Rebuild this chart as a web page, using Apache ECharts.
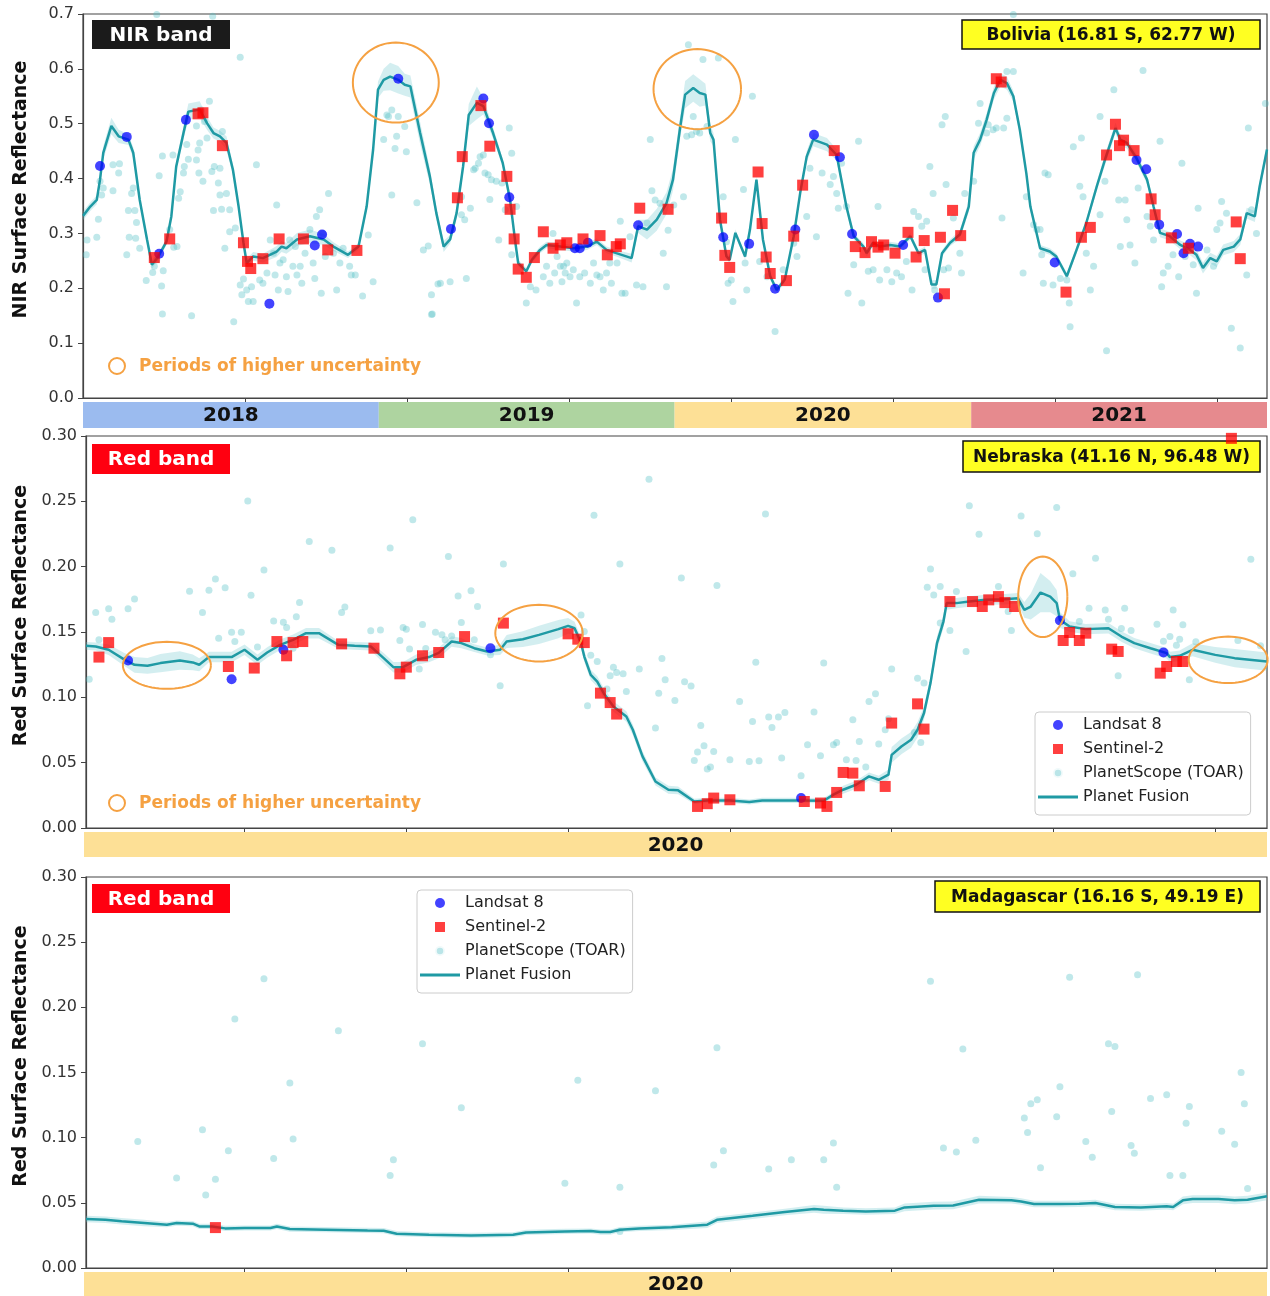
<!DOCTYPE html>
<html>
<head>
<meta charset="utf-8">
<script src="https://cdn.jsdelivr.net/npm/echarts@6/dist/echarts.min.js"></script>
<style>html,body{margin:0;padding:0;background:#fff}#c{width:1270px;height:1296px}</style>
</head>
<body>
<div id="c"></div>
<script>
// ---------- Panel 1: Bolivia, NIR band (x = days since 2018-01-01) ----------
const nirFusionDay = [0,9,17,21,25,35,44,56,62,70,79,85,93,103,109,115,124,130,144,153,161,169,177,185,192,198,202,210,222,239,245,251,264,280,297,309,327,340,350,358,364,371,379,389,397,404,416,428,436,445,453,461,469,476,486,494,506,518,527,533,537,547,554,564,572,589,605,622,634,646,658,677,685,696,708,720,728,737,743,753,761,768,774,778,786,794,798,805,817,823,831,839,848,856,866,877,885,893,901,918,930,942,951,963,967,975,983,996,1008,1021,1031,1039,1047,1053,1060,1070,1082,1093,1099,1107,1115,1124,1132,1140,1148,1156,1164,1169,1181,1193,1201,1214,1226,1238,1251,1261,1274,1280,1288,1300,1313,1321,1329,1341,1354,1366,1374,1382,1391,1399,1407,1420,1428,1436,1446,1452,1461];
const nirFusionVal = [0.332,0.349,0.361,0.398,0.447,0.496,0.477,0.471,0.447,0.361,0.289,0.243,0.258,0.285,0.331,0.422,0.483,0.522,0.526,0.501,0.483,0.477,0.465,0.416,0.349,0.283,0.246,0.258,0.255,0.267,0.276,0.273,0.289,0.295,0.289,0.276,0.261,0.276,0.349,0.453,0.562,0.580,0.586,0.580,0.571,0.568,0.483,0.404,0.337,0.276,0.289,0.337,0.422,0.516,0.538,0.532,0.483,0.428,0.361,0.289,0.246,0.231,0.252,0.270,0.279,0.276,0.273,0.276,0.285,0.270,0.264,0.255,0.313,0.307,0.325,0.355,0.398,0.495,0.553,0.565,0.556,0.553,0.483,0.471,0.325,0.258,0.252,0.301,0.258,0.307,0.398,0.289,0.222,0.197,0.216,0.295,0.374,0.440,0.471,0.462,0.443,0.349,0.295,0.276,0.264,0.283,0.276,0.279,0.276,0.295,0.264,0.270,0.207,0.207,0.264,0.283,0.298,0.349,0.447,0.471,0.507,0.556,0.580,0.574,0.550,0.489,0.410,0.349,0.273,0.267,0.258,0.222,0.270,0.319,0.386,0.434,0.492,0.471,0.465,0.437,0.398,0.349,0.301,0.295,0.279,0.270,0.261,0.237,0.255,0.249,0.270,0.276,0.289,0.337,0.331,0.386,0.453];
const nirFusionUnc = [0.008,0.008,0.008,0.01,0.012,0.015,0.012,0.01,0.01,0.008,0.008,0.008,0.006,0.006,0.008,0.01,0.012,0.015,0.015,0.012,0.01,0.01,0.012,0.01,0.008,0.008,0.008,0.008,0.008,0.01,0.01,0.01,0.012,0.012,0.01,0.008,0.006,0.006,0.008,0.01,0.015,0.02,0.025,0.025,0.02,0.02,0.02,0.015,0.01,0.01,0.008,0.01,0.012,0.02,0.03,0.015,0.01,0.008,0.008,0.006,0.006,0.006,0.006,0.006,0.006,0.006,0.006,0.006,0.006,0.006,0.006,0.008,0.012,0.018,0.02,0.02,0.02,0.02,0.025,0.025,0.025,0.02,0.015,0.012,0.008,0.006,0.006,0.006,0.006,0.006,0.006,0.006,0.006,0.006,0.006,0.006,0.008,0.01,0.012,0.012,0.01,0.008,0.006,0.006,0.006,0.006,0.006,0.006,0.006,0.006,0.006,0.006,0.008,0.008,0.006,0.006,0.008,0.01,0.012,0.012,0.012,0.012,0.012,0.012,0.01,0.01,0.008,0.008,0.006,0.006,0.006,0.006,0.006,0.006,0.008,0.01,0.01,0.01,0.01,0.008,0.008,0.008,0.008,0.008,0.008,0.01,0.01,0.01,0.01,0.01,0.01,0.01,0.01,0.01,0.01,0.01,0.01];
const nirLandsat = [[21,0.423],[54,0.476],[94,0.263],[127,0.507],[230,0.172],[286,0.278],[295,0.298],[389,0.582],[454,0.308],[494,0.546],[501,0.501],[526,0.366],[607,0.273],[613,0.273],[623,0.283],[685,0.315],[790,0.293],[822,0.281],[854,0.199],[879,0.307],[902,0.480],[934,0.439],[949,0.299],[1012,0.279],[1055,0.183],[1199,0.247],[1300,0.434],[1312,0.417],[1328,0.316],[1350,0.299],[1358,0.264],[1366,0.281],[1376,0.276]];
const nirSentinel = [[88,0.256],[107,0.290],[142,0.518],[148,0.520],[172,0.460],[198,0.283],[203,0.249],[207,0.236],[222,0.254],[242,0.290],[272,0.290],[302,0.270],[338,0.269],[462,0.365],[468,0.440],[491,0.533],[502,0.459],[523,0.404],[527,0.344],[532,0.290],[537,0.235],[547,0.220],[557,0.256],[568,0.303],[580,0.273],[589,0.279],[597,0.283],[617,0.290],[638,0.296],[647,0.261],[658,0.276],[663,0.281],[687,0.346],[722,0.344],[788,0.328],[792,0.260],[798,0.238],[833,0.412],[838,0.318],[843,0.257],[848,0.227],[868,0.214],[877,0.295],[888,0.388],[927,0.451],[953,0.276],[965,0.265],[973,0.285],[981,0.275],[988,0.279],[1002,0.264],[1018,0.302],[1028,0.257],[1038,0.287],[1058,0.293],[1063,0.190],[1073,0.342],[1083,0.296],[1127,0.582],[1133,0.576],[1213,0.193],[1232,0.293],[1243,0.311],[1263,0.443],[1274,0.499],[1279,0.460],[1284,0.470],[1297,0.451],[1318,0.363],[1323,0.334],[1343,0.292],[1364,0.273],[1423,0.321],[1428,0.254]];
const nirPlanetScope = [[4,0.261],[5,0.288],[17,0.293],[19,0.326],[21,0.395],[23,0.370],[25,0.383],[37,0.378],[37,0.425],[44,0.410],[45,0.427],[54,0.261],[56,0.342],[57,0.293],[60,0.373],[62,0.383],[64,0.342],[65,0.291],[66,0.320],[70,0.273],[78,0.214],[86,0.229],[88,0.240],[91,0.252],[94,0.405],[97,0.204],[98,0.441],[98,0.153],[99,0.232],[107,0.307],[111,0.443],[112,0.275],[116,0.276],[118,0.364],[120,0.376],[124,0.410],[125,0.422],[128,0.462],[130,0.435],[134,0.150],[140,0.434],[140,0.496],[142,0.452],[143,0.410],[144,0.465],[146,0.525],[148,0.395],[150,0.504],[153,0.474],[156,0.541],[159,0.413],[161,0.342],[162,0.422],[167,0.392],[169,0.419],[169,0.370],[171,0.344],[172,0.486],[175,0.273],[177,0.373],[181,0.343],[181,0.303],[186,0.139],[188,0.310],[194,0.206],[194,0.621],[196,0.188],[198,0.217],[202,0.197],[204,0.176],[208,0.203],[210,0.176],[214,0.425],[218,0.215],[222,0.209],[227,0.228],[231,0.288],[235,0.264],[237,0.224],[239,0.352],[241,0.197],[243,0.246],[247,0.252],[251,0.221],[253,0.194],[255,0.288],[259,0.240],[262,0.276],[264,0.224],[268,0.240],[270,0.209],[274,0.264],[280,0.307],[284,0.246],[286,0.218],[288,0.331],[292,0.343],[294,0.191],[296,0.300],[299,0.258],[303,0.373],[309,0.264],[313,0.197],[317,0.246],[321,0.273],[329,0.240],[331,0.224],[336,0.224],[345,0.186],[352,0.297],[358,0.212],[371,0.471],[375,0.516],[377,0.513],[381,0.525],[381,0.370],[385,0.455],[387,0.477],[389,0.513],[397,0.495],[399,0.449],[412,0.356],[420,0.270],[426,0.277],[430,0.188],[431,0.153],[438,0.208],[91,0.699],[160,0.696],
[430,0.152],[441,0.209],[453,0.212],[467,0.334],[471,0.325],[467,0.367],[473,0.218],[478,0.346],[482,0.416],[484,0.419],[488,0.428],[490,0.440],[494,0.443],[496,0.410],[500,0.407],[504,0.398],[502,0.362],[510,0.395],[513,0.288],[517,0.392],[521,0.343],[526,0.492],[529,0.446],[529,0.261],[535,0.349],[547,0.173],[552,0.203],[559,0.197],[568,0.221],[572,0.240],[576,0.209],[580,0.300],[582,0.228],[585,0.258],[589,0.240],[591,0.212],[593,0.240],[595,0.228],[597,0.246],[601,0.221],[605,0.234],[609,0.173],[613,0.221],[619,0.228],[626,0.209],[630,0.246],[634,0.224],[638,0.221],[642,0.197],[646,0.228],[650,0.246],[652,0.209],[659,0.246],[665,0.191],[669,0.191],[663,0.322],[675,0.294],[683,0.206],[691,0.203],[696,0.319],[700,0.471],[702,0.378],[706,0.361],[712,0.355],[716,0.264],[720,0.203],[722,0.306],[729,0.352],[741,0.367],[745,0.477],[747,0.644],[751,0.480],[753,0.513],[757,0.486],[761,0.483],[765,0.617],[770,0.495],[784,0.620],[790,0.367],[794,0.285],[796,0.209],[800,0.215],[802,0.176],[805,0.471],[815,0.380],[817,0.246],[819,0.197],[826,0.550],[835,0.249],[844,0.221],[854,0.121],[864,0.234],[877,0.282],[881,0.258],[893,0.331],[897,0.419],[905,0.294],[912,0.410],[922,0.389],[926,0.404],[930,0.373],[932,0.346],[936,0.428],[942,0.349],[944,0.191],[951,0.243],[957,0.468],[961,0.173],[969,0.231],
[975,0.234],[981,0.349],[983,0.215],[992,0.234],[998,0.212],[1004,0.228],[1010,0.221],[1016,0.249],[1025,0.340],[1023,0.197],[1031,0.331],[1035,0.313],[1039,0.234],[1041,0.322],[1045,0.422],[1049,0.373],[1051,0.197],[1060,0.498],[1062,0.234],[1064,0.513],[1065,0.389],[1068,0.237],[1074,0.328],[1082,0.264],[1084,0.228],[1088,0.373],[1099,0.395],[1105,0.501],[1107,0.537],[1115,0.483],[1117,0.498],[1123,0.489],[1127,0.492],[1134,0.328],[1136,0.492],[1140,0.510],[1140,0.595],[1148,0.595],[1148,0.699],[1160,0.228],[1164,0.367],[1173,0.316],[1177,0.307],[1181,0.307],[1183,0.261],[1185,0.209],[1187,0.410],[1191,0.407],[1197,0.206],[1206,0.218],[1214,0.215],[1217,0.173],[1218,0.130],[1222,0.458],[1230,0.386],[1232,0.474],[1234,0.367],[1238,0.264],[1243,0.197],[1247,0.240],[1255,0.334],[1255,0.513],[1261,0.395],[1263,0.086],[1272,0.562],[1278,0.361],[1280,0.276],[1286,0.361],[1288,0.325],[1292,0.279],[1298,0.246],[1302,0.383],[1308,0.597],[1313,0.331],[1317,0.313],[1321,0.288],[1329,0.468],[1331,0.203],[1333,0.228],[1339,0.240],[1345,0.261],[1352,0.221],[1356,0.428],[1360,0.258],[1370,0.243],[1374,0.191],[1376,0.346],[1387,0.270],[1395,0.240],[1399,0.307],[1403,0.319],[1405,0.358],[1411,0.337],[1417,0.127],[1428,0.091],[1436,0.224],[1438,0.492],[1442,0.343],[1448,0.300],[1459,0.537]];
// uncertainty ellipses: [centre day, centre value, half-width (days), half-height (reflectance)]
const nirEllipses = [[386,0.575,53,0.073],[758,0.563,54,0.073]];
const nirYearLabels = ['2018','2019','2020','2021'];
const nirYearStart = [0,365,730,1096];
const nirYearEnd = [365,730,1096,1461];

// ---------- Panel 2: Nebraska, Red band (x = day of year 2020) ----------
const nebFusionDay = [1,4,8,13,16,20,24,30,34,36,39,46,50,54,57,61,65,69,73,79,84,89,93,96,99,103,107,110,114,117,121,125,129,131,136,141,147,150,152,154,155,157,159,161,164,168,170,173,177,181,184,189,193,200,206,210,217,222,229,232,235,239,243,246,249,250,253,256,258,260,262,264,266,267,270,274,279,285,289,291,293,296,299,301,302,305,310,317,321,325,330,335,336,339,343,350,356,366];
const nebFusionVal = [0.1394,0.1389,0.1364,0.1287,0.1249,0.1241,0.1262,0.1282,0.1267,0.1249,0.1308,0.1308,0.1364,0.1287,0.1343,0.1402,0.1440,0.1491,0.1491,0.1402,0.1394,0.1389,0.1300,0.1231,0.1231,0.1287,0.1308,0.1340,0.1427,0.1415,0.1376,0.1351,0.1364,0.1427,0.1445,0.1478,0.1522,0.1547,0.1529,0.1415,0.1312,0.1172,0.1121,0.1032,0.0930,0.0853,0.0752,0.0548,0.0356,0.0293,0.0288,0.0203,0.0211,0.0211,0.0199,0.0211,0.0211,0.0211,0.0209,0.0255,0.0293,0.0331,0.0395,0.0369,0.0408,0.0560,0.0624,0.0675,0.0752,0.0880,0.1109,0.1415,0.1580,0.1721,0.1721,0.1733,0.1746,0.1751,0.1759,0.1669,0.1695,0.1802,0.1771,0.1721,0.1593,0.1542,0.1522,0.1529,0.1465,0.1415,0.1376,0.1338,0.1308,0.1318,0.1364,0.1325,0.1300,0.1274];
const nebFusionUnc = [0.003,0.003,0.004,0.005,0.006,0.006,0.007,0.007,0.006,0.005,0.004,0.004,0.004,0.004,0.004,0.004,0.004,0.004,0.004,0.003,0.003,0.003,0.004,0.004,0.004,0.004,0.004,0.004,0.004,0.004,0.003,0.003,0.004,0.005,0.006,0.007,0.007,0.006,0.005,0.004,0.004,0.004,0.004,0.004,0.004,0.004,0.004,0.004,0.003,0.003,0.003,0.002,0.002,0.002,0.002,0.002,0.002,0.002,0.002,0.002,0.003,0.003,0.003,0.003,0.004,0.006,0.006,0.006,0.006,0.005,0.005,0.005,0.005,0.005,0.004,0.004,0.004,0.004,0.004,0.006,0.010,0.015,0.012,0.010,0.006,0.004,0.004,0.004,0.004,0.004,0.004,0.004,0.004,0.004,0.005,0.006,0.007,0.007];
const nebLandsat = [[14,0.1282],[46,0.1139],[62,0.1364],[126,0.1376],[222,0.0229],[302,0.1588],[334,0.1343]];
const nebSentinel = [[5,0.1308],[8,0.1419],[45,0.1236],[53,0.1224],[60,0.1427],[63,0.1318],[65,0.1419],[68,0.1427],[80,0.1409],[90,0.1376],[98,0.1180],[100,0.1231],[105,0.1318],[110,0.1343],[118,0.1465],[130,0.1568],[150,0.1486],[153,0.1445],[155,0.1419],[160,0.1032],[163,0.0960],[165,0.0872],[190,0.0165],[193,0.0186],[195,0.0229],[200,0.0216],[223,0.0203],[228,0.0191],[230,0.0165],[233,0.0272],[235,0.0425],[238,0.0420],[240,0.0323],[248,0.0318],[250,0.0803],[258,0.0950],[260,0.0757],[268,0.1733],[275,0.1733],[278,0.1695],[280,0.1746],[283,0.1771],[285,0.1725],[288,0.1695],[303,0.1435],[305,0.1496],[308,0.1435],[310,0.1491],[318,0.1369],[320,0.1351],[333,0.1185],[335,0.1236],[338,0.1274],[340,0.1274],[355,0.2982]];
const nebPlanetScope = [[2,0.1139],[4,0.1649],[5,0.1440],[8,0.1677],[9,0.1598],[14,0.1677],[16,0.1753],[33,0.1812],[37,0.1649],[39,0.1820],[41,0.1906],[42,0.1453],[44,0.1838],[46,0.1499],[47,0.1427],[49,0.1499],[51,0.2503],[52,0.1782],[54,0.1386],[56,0.1975],[59,0.1585],[62,0.1575],[63,0.1534],[65,0.1376],[66,0.1616],[67,0.1725],[70,0.2192],[77,0.2126],[80,0.1649],[81,0.1692],[89,0.1509],[92,0.1516],[95,0.2143],[98,0.1435],[99,0.1534],[100,0.1522],[101,0.1369],[102,0.2360],[104,0.1216],[105,0.1557],[106,0.1373],[109,0.1499],[111,0.1478],[112,0.1440],[113,0.2077],[114,0.1470],[116,0.1776],[117,0.1572],[120,0.1815],[121,0.1440],[122,0.1695],[126,0.1325],[129,0.1088],[130,0.2021],[154,0.1631],[155,0.1503],[156,0.0935],[157,0.1323],[158,0.2394],[159,0.1274],[162,0.1063],[163,0.1165],[164,0.1231],[165,0.1190],[166,0.2021],[167,0.1180],[168,0.1045],[172,0.1216],[175,0.2669],[177,0.0765],[178,0.1032],[179,0.1297],[180,0.1134],[183,0.0976],[185,0.1914],[186,0.1119],[188,0.1086],[189,0.0517],[190,0.0581],[191,0.0785],[192,0.0629],[193,0.0451],[194,0.0466],[195,0.0586],[196,0.1855],[200,0.0522],[203,0.0968],[206,0.0509],[207,0.0815],[208,0.1269],[209,0.0515],[211,0.2403],[212,0.0849],[213,0.0769],[215,0.0849],[216,0.0535],[217,0.0884],[222,0.0400],[224,0.0637],[226,0.0887],[228,0.0553],[229,0.1262],[232,0.0637],[233,0.0655],[236,0.0522],[238,0.0828],[239,0.0517],[240,0.0662],[242,0.0466],[243,0.0968],[245,0.1027],[246,0.0642],[248,0.0752],[249,0.0836],[250,0.1216],[257,0.0731],[258,0.1147],[259,0.0655],[260,0.1109],[261,0.1843],[262,0.1983],[263,0.1784],[265,0.1848],[265,0.1568],[268,0.1511],[270,0.1809],[273,0.1350],[274,0.2467],[277,0.2248],[283,0.1848],[286,0.1656],[287,0.1511],[290,0.2388],[295,0.2251],[301,0.2452],[306,0.1945],[308,0.1580],[311,0.1682],[313,0.2065],[316,0.1669],[317,0.1598],[320,0.1165],[321,0.1526],[322,0.1682],[324,0.1511],[332,0.1560],[334,0.1430],[336,0.1465],[337,0.1669],[338,0.1399],[339,0.1445],[340,0.1555],[342,0.1134],[344,0.1425],[357,0.1435],[361,0.2057],[364,0.1394]];
const nebEllipses = [[26,0.1245,13.6,0.018],[141,0.1491,13.5,0.0217],[296.7,0.1769,7.6,0.0308],[354,0.1287,12.2,0.0178]];

// ---------- Panel 3: Madagascar, Red band (x = day of year 2020) ----------
const madFusionDay = [1,7,12,19,26,29,34,36,40,44,50,58,60,64,75,88,93,97,107,120,133,137,149,157,160,163,166,172,182,193,196,207,217,226,229,235,242,251,254,263,269,277,287,290,294,302,308,313,319,327,335,337,340,343,351,356,360,366];
const madFusionVal = [0.0376,0.0370,0.0358,0.0345,0.0332,0.0345,0.0340,0.0319,0.0319,0.0304,0.0307,0.0307,0.0319,0.0299,0.0294,0.0288,0.0286,0.0263,0.0255,0.0250,0.0255,0.0273,0.0281,0.0284,0.0276,0.0276,0.0294,0.0304,0.0312,0.0332,0.0370,0.0401,0.0430,0.0453,0.0447,0.0440,0.0434,0.0440,0.0465,0.0478,0.0480,0.0524,0.0519,0.0511,0.0491,0.0491,0.0493,0.0499,0.0468,0.0465,0.0473,0.0468,0.0519,0.0529,0.0529,0.0519,0.0524,0.0550];
const madFusionUnc = [0.0025,0.0025,0.0025,0.0025,0.002,0.002,0.002,0.002,0.002,0.002,0.002,0.002,0.002,0.002,0.002,0.002,0.002,0.002,0.002,0.002,0.002,0.002,0.002,0.002,0.002,0.002,0.002,0.002,0.002,0.0025,0.0025,0.0025,0.0025,0.003,0.003,0.0025,0.0025,0.0025,0.003,0.003,0.003,0.003,0.0025,0.0025,0.0025,0.0025,0.0025,0.0025,0.0025,0.0025,0.0025,0.0025,0.003,0.003,0.003,0.003,0.003,0.003];
const madLandsat = [];
const madSentinel = [[41,0.031]];
const madPlanetScope = [[17,0.097],[29,0.069],[37,0.106],[38,0.056],[41,0.068],[45,0.090],[47,0.191],[56,0.222],[59,0.084],[64,0.142],[65,0.099],[79,0.182],[95,0.071],[96,0.083],[105,0.172],[117,0.123],[149,0.065],[153,0.144],[166,0.062],[166,0.028],[177,0.136],[195,0.079],[196,0.169],[198,0.090],[212,0.076],[219,0.083],[229,0.083],[232,0.096],[233,0.062],[262,0.220],[266,0.092],[270,0.089],[272,0.168],[276,0.098],[291,0.115],[292,0.104],[293,0.126],[295,0.129],[296,0.077],[301,0.116],[302,0.139],[305,0.223],[310,0.097],[312,0.085],[317,0.172],[319,0.170],[318,0.120],[324,0.094],[325,0.088],[326,0.225],[330,0.130],[335,0.133],[336,0.071],[340,0.071],[341,0.111],[342,0.124],[352,0.105],[356,0.095],[358,0.150],[359,0.126],[360,0.061]];
const yearOnly = ['2020'];

// ---------- styling constants ----------
const C_LINE = '#1f9aa4', C_BAND = 'rgba(110,200,206,0.30)', C_DOT = 'rgba(80,190,198,0.45)';
const C_L8 = 'rgba(0,0,255,0.92)', C_S2 = 'rgba(255,0,0,0.94)', C_ORANGE = '#f5a142';
const YEAR_COLORS = ['#9bbbef','#aed4a0','#fde096','#e68a8e'];
const FONT = '"DejaVu Sans", sans-serif';

function zip(xs, ys) { return xs.map((x, i) => [x, ys[i]]); }

function bandSeries(gi, xs, ys, hw) {
  return {
    type: 'custom', xAxisIndex: gi, yAxisIndex: gi, silent: true, z: 3,
    data: [[xs[0], ys[0]]],
    renderItem: function (params, api) {
      const pts = [];
      for (let i = 0; i < xs.length; i++) pts.push(api.coord([xs[i], ys[i] + hw[i]]));
      for (let i = xs.length - 1; i >= 0; i--) pts.push(api.coord([xs[i], ys[i] - hw[i]]));
      return { type: 'polygon', shape: { points: pts }, style: { fill: C_BAND } };
    }
  };
}
function ellipseSeries(gi, list) {
  return {
    type: 'custom', xAxisIndex: gi, yAxisIndex: gi, silent: true, z: 8, clip: false,
    data: list,
    renderItem: function (params, api) {
      const cx = api.value(0), cy = api.value(1), rx = api.value(2), ry = api.value(3);
      const pts = [];
      for (let k = 0; k <= 72; k++) {
        const t = k / 72 * Math.PI * 2;
        pts.push(api.coord([cx + rx * Math.cos(t), cy + ry * Math.sin(t)]));
      }
      return { type: 'polyline', shape: { points: pts }, style: { fill: null, stroke: C_ORANGE, lineWidth: 2 } };
    }
  };
}
function yearSeries(gi, labels, starts, ends, colors) {
  return {
    type: 'custom', xAxisIndex: gi, yAxisIndex: gi, silent: true,
    data: starts.map((s, i) => [s, ends[i]]),
    renderItem: function (params, api) {
      const a = api.coord([api.value(0), 1]);
      const b = api.coord([api.value(1), 0]);
      return { type: 'group', children: [
        { type: 'rect', shape: { x: a[0], y: a[1], width: b[0] - a[0], height: b[1] - a[1] }, style: { fill: colors[params.dataIndex] } },
        { type: 'text', x: (a[0] + b[0]) / 2, y: (a[1] + b[1]) / 2 + 1,
          style: { text: labels[params.dataIndex], align: 'center', verticalAlign: 'middle', font: 'bold 20px ' + FONT, fill: '#111' } }
      ]};
    }
  };
}
function panelSeries(gi, dots, fx, fy, fu, l8, s2, ell) {
  const arr = [
    { name: 'PlanetScope (TOAR)', type: 'scatter', xAxisIndex: gi, yAxisIndex: gi, z: 2, symbol: 'circle', symbolSize: 7,
      itemStyle: { color: C_DOT }, data: dots, silent: true },
    bandSeries(gi, fx, fy, fu),
    { name: 'Planet Fusion', type: 'line', xAxisIndex: gi, yAxisIndex: gi, z: 4, symbol: 'none', showSymbol: false,
      lineStyle: { color: C_LINE, width: 2.5 }, itemStyle: { color: C_LINE }, data: zip(fx, fy), silent: true },
    { name: 'Landsat 8', type: 'scatter', xAxisIndex: gi, yAxisIndex: gi, z: 5, symbol: 'circle', symbolSize: 10,
      itemStyle: { color: C_L8 }, data: l8, silent: true },
    { name: 'Sentinel-2', type: 'scatter', xAxisIndex: gi, yAxisIndex: gi, z: 6, symbol: 'rect', symbolSize: 11,
      itemStyle: { color: C_S2 }, data: s2, silent: true }
  ];
  if (ell) arr.push(ellipseSeries(gi, ell));
  return arr;
}

const axisLineStyle = { lineStyle: { color: '#444', width: 1.2 } };
function mainX(gi, min, max, tickVals) {
  return { type: 'value', gridIndex: gi, min: min, max: max, axisLine: Object.assign({ show: true }, axisLineStyle),
    axisTick: { show: true, inside: false, length: 5, customValues: tickVals, lineStyle: { color: '#444' } },
    axisLabel: { show: false }, splitLine: { show: false } };
}
function mainY(gi, max, interval, dec, name) {
  return { type: 'value', gridIndex: gi, min: 0, max: max, interval: interval,
    name: name, nameLocation: 'middle', nameGap: 52, nameRotate: 90,
    nameTextStyle: { fontFamily: FONT, fontWeight: 'bold', fontSize: 19, color: '#111', padding: [0, 0, 0, 33] },
    axisLine: Object.assign({ show: true }, axisLineStyle),
    axisTick: { show: true, inside: false, length: 5, lineStyle: { color: '#444' } },
    axisLabel: { fontFamily: FONT, fontSize: 16, color: '#333', margin: 9, formatter: v => v.toFixed(dec) },
    splitLine: { show: false } };
}
function barX(gi, min, max) {
  return { type: 'value', gridIndex: gi, min: min, max: max, show: false };
}
function barY(gi) { return { type: 'value', gridIndex: gi, min: 0, max: 1, show: false }; }

function labelBox(x, y, w, h, text, fill, color, size, stroke) {
  return { type: 'group', x: x, y: y, z: 100, children: [
    { type: 'rect', shape: { x: 0, y: 0, width: w, height: h },
      style: { fill: fill, stroke: stroke || null, lineWidth: stroke ? 1.5 : 0 } },
    { type: 'text', x: w / 2, y: h / 2 + 1, style: { text: text, align: 'center', verticalAlign: 'middle',
      font: 'bold ' + size + 'px ' + FONT, fill: color } }
  ]};
}
function uncertaintyNote(y) {
  return { type: 'group', x: 0, y: y, z: 100, children: [
    { type: 'circle', shape: { cx: 117, cy: 0, r: 8 }, style: { fill: null, stroke: C_ORANGE, lineWidth: 2 } },
    { type: 'text', x: 139, y: 1, style: { text: 'Periods of higher uncertainty', verticalAlign: 'middle',
      font: 'bold 17px ' + FONT, fill: C_ORANGE } }
  ]};
}

const legendNames = [
  { name: 'Landsat 8', icon: 'circle' },
  { name: 'Sentinel-2', icon: 'path://M0 0H10V10H0Z' },
  { name: 'PlanetScope (TOAR)', icon: 'circle', itemStyle: { color: '#a9dfe2', borderColor: '#ffffff', borderWidth: 3.5 } },
  { name: 'Planet Fusion', icon: 'path://M0 0H30V2.2H0Z' }
];
function legendAt(left, top) {
  return { orient: 'vertical', left: left, top: top, data: legendNames, selectedMode: false,
    itemWidth: 40, itemHeight: 10, itemGap: 6, symbolKeepAspect: true,
    backgroundColor: '#fff', borderColor: '#cccccc', borderWidth: 1, borderRadius: 4,
    padding: [4, 7, 9, 3],
    textStyle: { fontFamily: FONT, fontSize: 16, color: '#222', lineHeight: 18 } };
}

const chart = echarts.init(document.getElementById('c'), null, { renderer: 'canvas' });
chart.setOption({
  animation: false,
  backgroundColor: '#ffffff',
  textStyle: { fontFamily: FONT },
  grid: [
    { left: 83, top: 14, width: 1184, height: 384, show: true, borderColor: '#444', borderWidth: 1.2 },
    { left: 83, top: 402, width: 1184, height: 26 },
    { left: 86, top: 436, width: 1181, height: 392, show: true, borderColor: '#444', borderWidth: 1.2 },
    { left: 84, top: 832, width: 1183, height: 25 },
    { left: 86, top: 877, width: 1181, height: 391, show: true, borderColor: '#444', borderWidth: 1.2 },
    { left: 84, top: 1272, width: 1183, height: 24 }
  ],
  xAxis: [
    mainX(0, 0, 1461, [200,400,600,800,1000,1200,1400]),
    barX(1, 0, 1461),
    mainX(2, 1, 366, [50,100,150,200,250,300,350]),
    barX(3, 1, 366),
    mainX(4, 1, 366, [50,100,150,200,250,300,350]),
    barX(5, 1, 366)
  ],
  yAxis: [
    mainY(0, 0.7, 0.1, 1, 'NIR Surface Reflectance'),
    barY(1),
    mainY(2, 0.3, 0.05, 2, 'Red Surface Reflectance'),
    barY(3),
    mainY(4, 0.3, 0.05, 2, 'Red Surface Reflectance'),
    barY(5)
  ],
  legend: [legendAt(1035, 712), legendAt(417, 890)],
  series: [].concat(
    panelSeries(0, nirPlanetScope, nirFusionDay, nirFusionVal, nirFusionUnc, nirLandsat, nirSentinel, nirEllipses),
    [yearSeries(1, nirYearLabels, nirYearStart, nirYearEnd, YEAR_COLORS)],
    panelSeries(2, nebPlanetScope, nebFusionDay, nebFusionVal, nebFusionUnc, nebLandsat, nebSentinel, nebEllipses),
    [yearSeries(3, yearOnly, [1], [366], [YEAR_COLORS[2]])],
    panelSeries(4, madPlanetScope, madFusionDay, madFusionVal, madFusionUnc, madLandsat, madSentinel, null),
    [yearSeries(5, yearOnly, [1], [366], [YEAR_COLORS[2]])]
  ),
  graphic: [
    labelBox(92, 20, 138, 29, 'NIR band', '#1b1b1b', '#ffffff', 20),
    labelBox(962, 20, 298, 29, 'Bolivia (16.81 S, 62.77 W)', '#ffff22', '#111', 17, '#111'),
    uncertaintyNote(366),
    labelBox(92, 444, 138, 30, 'Red band', '#ff0010', '#ffffff', 20),
    labelBox(963, 441, 297, 31, 'Nebraska (41.16 N, 96.48 W)', '#ffff22', '#111', 17, '#111'),
    uncertaintyNote(803),
    labelBox(92, 884, 138, 29, 'Red band', '#ff0010', '#ffffff', 20),
    labelBox(935, 881, 325, 31, 'Madagascar (16.16 S, 49.19 E)', '#ffff22', '#111', 17, '#111')
  ]
});
</script>
</body>
</html>
